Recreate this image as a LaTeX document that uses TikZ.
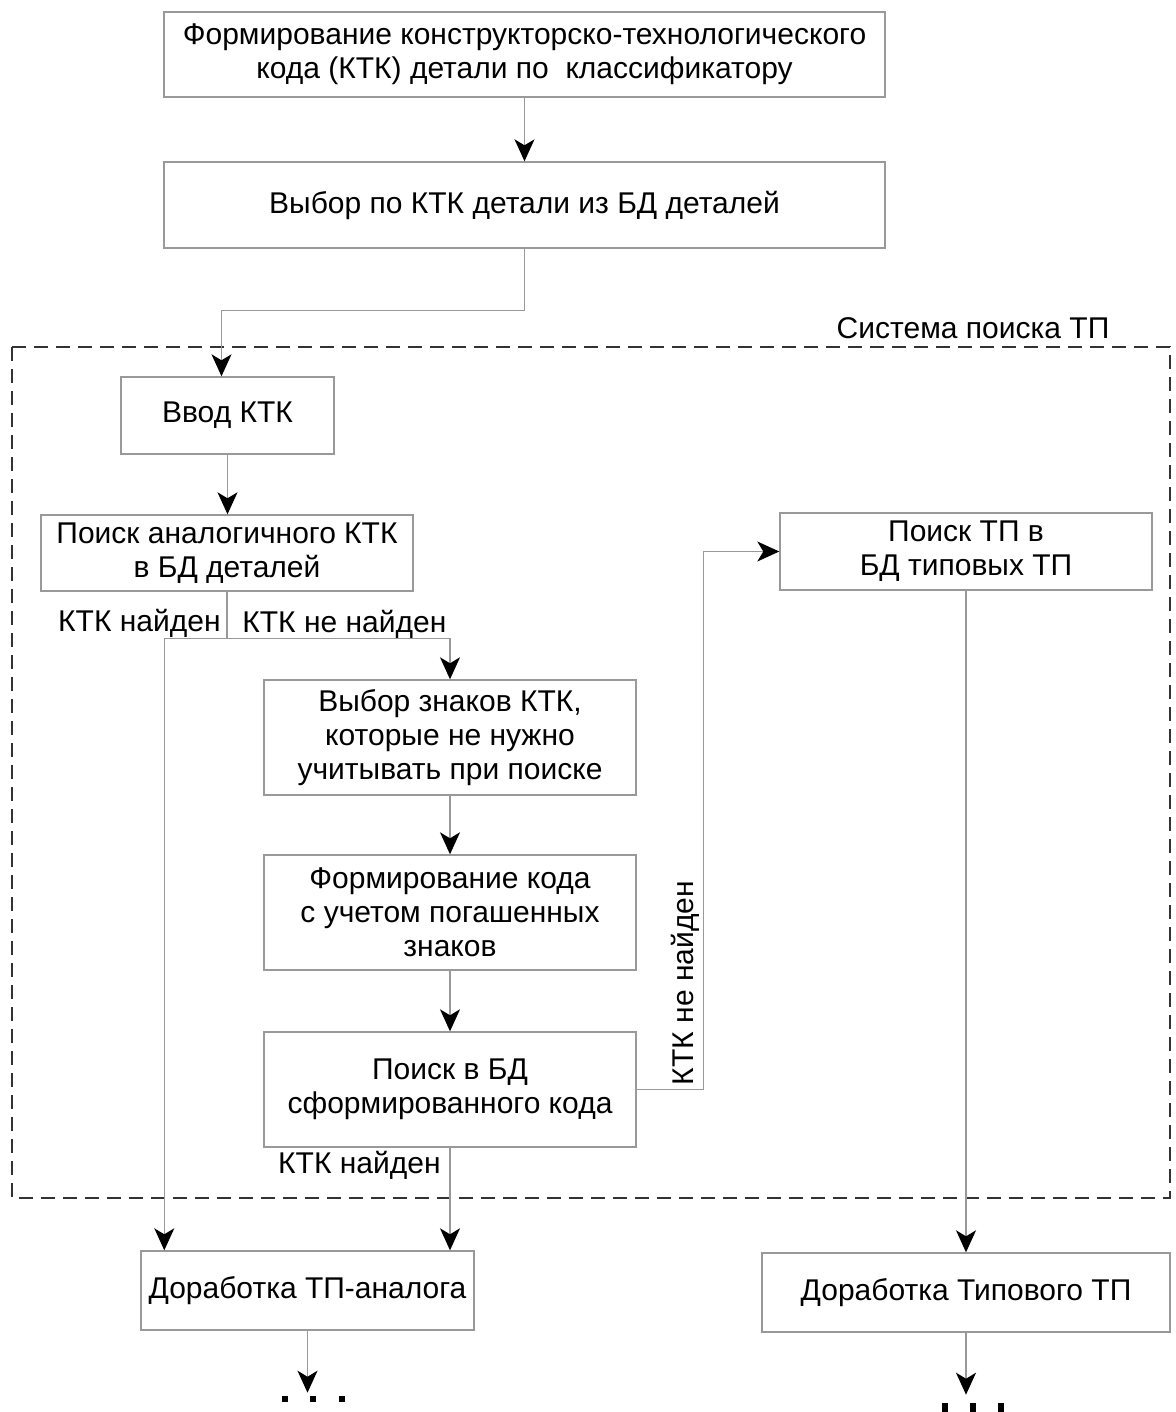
\documentclass[tikz,border=0pt]{standalone}
\usepackage{fontspec}
\setmainfont{Liberation Sans}
\usetikzlibrary{arrows.meta}
\definecolor{linegray}{gray}{0.6}
\begin{document}
\begin{tikzpicture}[x=0.5pt,y=-0.5pt,
 box/.style={rectangle,draw=linegray,line width=0.7pt,align=center,inner sep=2pt,
             font=\fontsize{15}{16.9}\selectfont},
 lbl/.style={inner sep=0pt,font=\fontsize{15}{16.9}\selectfont},
 arrow/.style={-{Stealth[length=11pt,width=10pt,inset=3pt,color=black]},draw=linegray,line width=0.7pt},
 line/.style={draw=linegray,line width=0.7pt}]
\useasboundingbox (0,0) rectangle (1175,1412);
% system frame
\draw[black!80,line width=1pt,dash pattern=on 7pt off 4pt] (12,347) rectangle (1170,1198);
\node[lbl] (sys) at (973,328) {Система поиска ТП};
% boxes
\node[box,minimum width=360.5pt,minimum height=42.5pt] (ktk) at (524.5,54.5)
  {Формирование конструкторско-технологического\\кода (КТК) детали по~ классификатору};
\node[box,minimum width=360.5pt,minimum height=43pt] (sel) at (524.5,205) {Выбор по КТК детали из БД деталей};
\node[box,minimum width=106.5pt,minimum height=38.5pt] (vvod) at (227.5,415.5) {Ввод КТК};
\node[box,minimum width=186pt,minimum height=38pt] (analog) at (227,553) {Поиск аналогичного КТК\\в БД деталей};
\node[box,minimum width=186pt,minimum height=57.5pt] (znaki) at (450,737.5)
  {Выбор знаков КТК,\\которые не нужно\\учитывать при поиске};
\node[box,minimum width=186pt,minimum height=57.5pt] (kod) at (450,912.5)
  {Формирование кода\\с учетом погашенных\\знаков};
\node[box,minimum width=186pt,minimum height=57.5pt] (poiskbd) at (450,1089.5)
  {Поиск в БД\\сформированного кода};
\node[box,minimum width=186pt,minimum height=38.5pt] (tipovoy) at (966,551.5) {Поиск ТП в\\БД типовых ТП};
\node[box,minimum width=166.5pt,minimum height=39.5pt] (dorA) at (307.5,1290.5) {Доработка ТП-аналога};
\node[box,minimum width=204pt,minimum height=39.5pt] (dorT) at (966,1292.5) {Доработка Типового ТП};
% connectors
\draw[arrow] (ktk)--(sel);
\draw[arrow] (sel.south)--++(0,62)-|([xshift=-3pt]vvod.north);
\draw[arrow] (vvod.south)--(vvod.south|-analog.north);
\draw[line] (analog.south)--++(0,47) coordinate (split);
\draw[arrow] (split)-|([xshift=12pt]dorA.north west);
\draw[arrow] (split)-|(znaki.north);
\node[lbl,anchor=east] (found1) at (221,623) {КТК найден};
\node[lbl,anchor=west] (notfound1) at (242,624) {КТК не найден};
\draw[arrow] (znaki)--(kod);
\draw[arrow] (kod)--(poiskbd);
\draw[arrow] (poiskbd.south)--(poiskbd.south|-dorA.north);
\node[lbl,anchor=east] (found2) at (441,1165) {КТК найден};
\draw[arrow] (poiskbd.east)--++(67,0) coordinate (bend)|-(tipovoy.west);
\node[lbl,rotate=90,anchor=south west] (notfound2) at ([xshift=-2pt,yshift=2pt]bend) {КТК не найден};
\draw[arrow] (tipovoy.south)--(dorT.north);
\draw[arrow] (dorA.south)--++(0,62) coordinate (endA);
\draw[arrow] (dorT.south)--++(0,62) coordinate (endT);
% continuation dots
\foreach \dx in {282,310,339} \fill (\dx,1396) rectangle ++(6,6);
\foreach \dx in {942,970,998} \fill (\dx,1403) rectangle ++(6,12);
\end{tikzpicture}
\end{document}
